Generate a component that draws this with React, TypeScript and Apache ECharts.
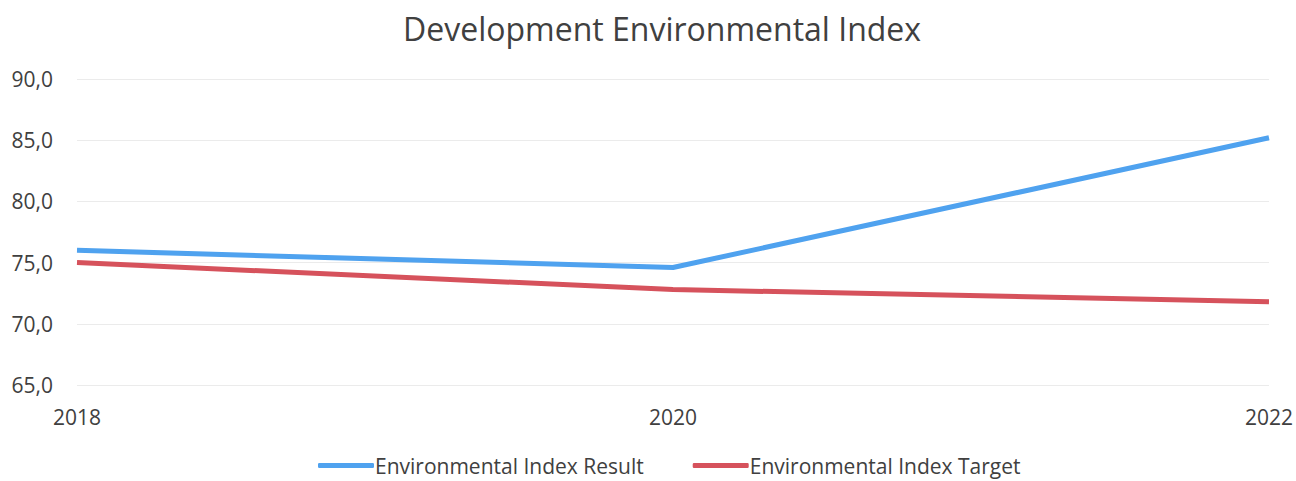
import React, { useEffect, useRef } from "react";
import * as echarts from "echarts";

const years = ["2018", "2020", "2022"];
const resultValues = [76.0, 74.6, 85.2];
const targetValues = [75.0, 72.8, 71.8];
const seriesNames = ["Environmental Index Result", "Environmental Index Target"];

export default function App() {
  const ref = useRef<HTMLDivElement>(null);
  useEffect(() => {
    document.body.style.margin = "0";
    const chart = echarts.init(ref.current!, null, { renderer: "svg" });
    const font = "'Open Sans', Lato, sans-serif";
    chart.setOption({
      animation: false,
      backgroundColor: "#ffffff",
      title: {
        text: "Development Environmental Index",
        left: 398,
        top: 7,
        textStyle: { fontFamily: font, fontSize: 32, fontWeight: "normal", color: "#404040" },
      },
      legend: {
        bottom: 0,
        left: 313,
        icon: "roundRect",
        itemWidth: 56,
        itemHeight: 5,
        itemGap: 49,
        textStyle: { fontFamily: font, fontSize: 21, color: "#404040", padding: [0, 0, 0, -4] },
        data: seriesNames,
      },
      grid: { left: 77, right: 24, top: 79, bottom: 96 },
      xAxis: {
        type: "category",
        data: years,
        boundaryGap: false,
        axisLine: { show: false },
        axisTick: { show: false },
        axisLabel: { fontFamily: font, fontSize: 21, color: "#404040", margin: 21 },
        splitLine: { show: false },
      },
      yAxis: {
        type: "value",
        min: 65,
        max: 90,
        interval: 5,
        axisLine: { show: false },
        axisTick: { show: false },
        axisLabel: {
          fontFamily: font,
          fontSize: 21,
          color: "#404040",
          margin: 24,
          formatter: (v: number) => v.toFixed(1).replace(".", ","),
        },
        splitLine: { lineStyle: { color: "#ebebeb", width: 1 } },
      },
      series: [
        {
          name: seriesNames[0],
          type: "line",
          data: resultValues,
          symbol: "none",
          lineStyle: { width: 5, color: "#4fa2ef" },
          itemStyle: { color: "#4fa2ef" },
        },
        {
          name: seriesNames[1],
          type: "line",
          data: targetValues,
          symbol: "none",
          lineStyle: { width: 5, color: "#d6525c" },
          itemStyle: { color: "#d6525c" },
        },
      ],
    });
    return () => chart.dispose();
  }, []);
  return <div ref={ref} style={{ width: 1296, height: 481 }} />;
}
